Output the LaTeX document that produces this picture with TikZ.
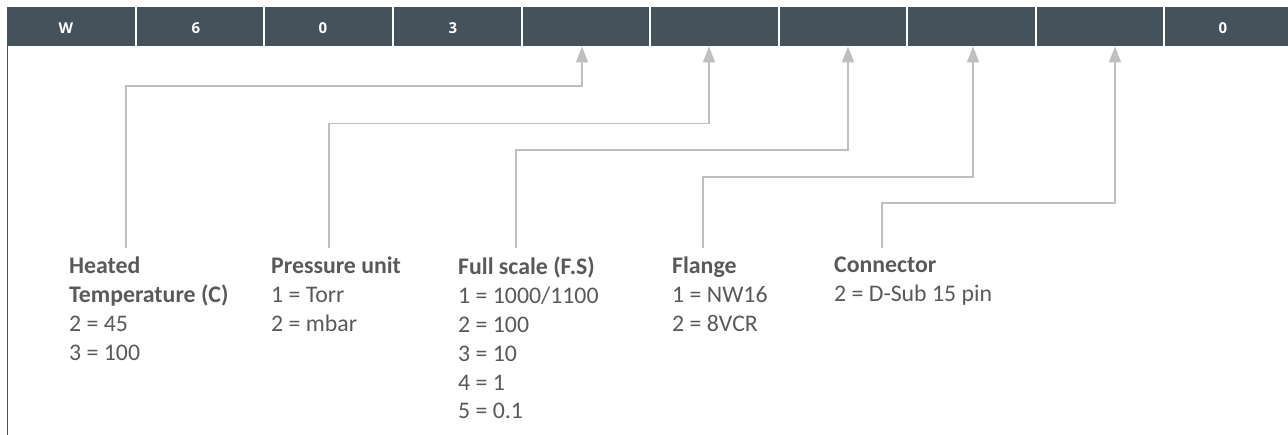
\documentclass[tikz,border=0pt]{standalone}
\usepackage{fontspec}
\setmainfont{Carlito}
\newfontfamily\hdrfont{Open Sans}
\usetikzlibrary{arrows.meta}
\definecolor{barcol}{HTML}{45525C}
\definecolor{txtcol}{HTML}{595959}
\definecolor{linecol}{HTML}{BFBFBF}
\tikzset{
  celltxt/.style={text=white, font=\hdrfont\bfseries\fontsize{15}{18}\selectfont, inner sep=0pt},
  conn/.style={draw=linecol, line width=1.5pt, -{Triangle[width=12pt,length=16pt]}},
  legend/.style={anchor=north west, align=left, inner sep=0pt, text=txtcol, font=\fontsize{23.8}{28.8}\selectfont}
}
\begin{document}
\begin{tikzpicture}[x=1pt,y=-1pt]
\useasboundingbox (0,0) rectangle (1288,435);
% header bar
\fill[barcol] (7,7) rectangle (1292,46);
\draw[barcol, line width=1.6pt] (7.5,46) -- (7.5,435);
\foreach \i/\a/\b in {1/7/136,2/136/264,3/264/393,4/393/522,5/522/650,6/650/779,7/779/907,8/907/1036,9/1036/1164,10/1164/1292}{
  \node[inner sep=0pt, minimum width={(\b-\a)*1pt}, minimum height=39pt, anchor=north west] (cell\i) at (\a,7) {};
}
\foreach \x in {136,264,393,522,650,779,907,1036,1164}{
  \draw[white, line width=1.2pt] (\x,7) -- (\x,46);
}
\node[celltxt] (h1) at (66,28) {W};
\node[celltxt] (h2) at (196,28) {6};
\node[celltxt] (h3) at (323,28) {0};
\node[celltxt] (h4) at (453,28) {3};
\node[celltxt] (h10) at (1223,28) {0};
% legends
\node[legend] (l1) at (69,257) {\textbf{Heated}\\\textbf{Temperature (C)}\\2 = 45\\3 = 100};
\node[legend] (l2) at (271,257) {\textbf{Pressure unit}\\1 = Torr\\2 = mbar};
\node[legend] (l3) at (458,257) {\textbf{Full scale (F.S)}\\1 = 1000/1100\\2 = 100\\3 = 10\\4 = 1\\5 = 0.1};
\node[legend] (l4) at (672,257) {\textbf{Flange}\\1 = NW16\\2 = 8VCR};
\node[legend] (l5) at (834,257) {\textbf{Connector}\\2 = D-Sub 15 pin};
% connector start points and bends
\coordinate (s1) at (126,248);
\coordinate (s2) at (329,248);
\coordinate (s3) at (516,248);
\coordinate (s4) at (703,248);
\coordinate (s5) at (882,248);
\coordinate (k1) at (582,86);
\coordinate (k2) at (709,123.5);
\coordinate (k3) at (848,150);
\coordinate (k4) at (973,177);
\coordinate (k5) at (1115,203);
\draw[conn] (s1) |- (k1) -- (k1 |- cell5.south);
\draw[conn] (s2) |- (k2) -- (k2 |- cell6.south);
\draw[conn] (s3) |- (k3) -- (k3 |- cell7.south);
\draw[conn] (s4) |- (k4) -- (k4 |- cell8.south);
\draw[conn] (s5) |- (k5) -- (k5 |- cell9.south);
\end{tikzpicture}
\end{document}
